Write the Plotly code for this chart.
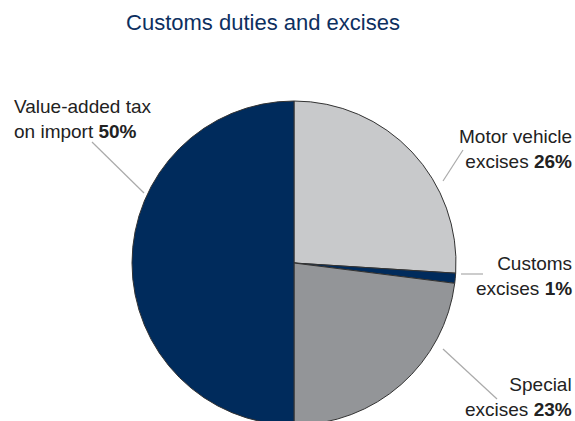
import plotly.graph_objects as go

# figure is a little taller than the 421px window: the pie runs off the bottom as in the reference
W, H = 575, 425

categories = ["Motor vehicle excises", "Customs excises", "Special excises", "Value-added tax on import"]
values = [26, 1, 23, 50]
label_lines = [("Motor vehicle", "excises"), ("Customs", "excises"), ("Special", "excises"), ("Value-added tax", "on import")]
colors = ["#c8c9cb", "#002b5c", "#939598", "#002b5c"]

NAVY = "#0d2f5f"
TEXT = "#222222"
FONT = "Liberation Sans, Arial, sans-serif"

def px(x):
    return x / W

def py(y):
    return 1 - y / H

fig = go.Figure(go.Pie(
    labels=categories,
    values=values,
    sort=False,
    direction="clockwise",
    rotation=0,
    marker=dict(colors=colors, line=dict(color="#333333", width=1)),
    textinfo="none",
    hoverinfo="label+percent",
    showlegend=False,
    domain=dict(x=[px(132), px(456)], y=[0, py(101)]),
))

# label placement (window pixel anchors) and leader lines
label_pos = [(573, 149, "right"), (573, 276, "right"), (573, 397, "right"), (13, 119, "left")]
leaders = [((443, 181), (463, 150)), ((461, 274), (483, 274)), ((443, 349), (497, 399)), ((92, 142), (144, 193))]

annotations = []
shapes = []
for (l1, l2), v, (x, y, al), ((x0, y0), (x1, y1)) in zip(label_lines, values, label_pos, leaders):
    annotations.append(dict(
        x=px(x), y=py(y), xref="paper", yref="paper",
        xanchor=al, yanchor="middle", align=al, showarrow=False,
        borderpad=0,
        text=f"{l1}<br>{l2} <b>{v}%</b>",
        font=dict(family=FONT, size=19, color=TEXT),
    ))
    shapes.append(dict(type="line", xref="paper", yref="paper",
                       x0=px(x0), y0=py(y0), x1=px(x1), y1=py(y1),
                       line=dict(color="#aaaaaa", width=1.2)))

fig.update_layout(
    width=W, height=H,
    margin=dict(l=0, r=0, t=0, b=0),
    paper_bgcolor="white", plot_bgcolor="white",
    title=dict(text="Customs duties and excises", x=px(263), xanchor="center",
               y=py(22), yanchor="middle",
               font=dict(family=FONT, size=22, color=NAVY)),
    annotations=annotations,
    shapes=shapes,
)

fig.write_html(
    "out.html",
    config={"displayModeBar": False},
    post_script="document.body.style.margin='0';document.body.style.overflow='hidden';",
)
